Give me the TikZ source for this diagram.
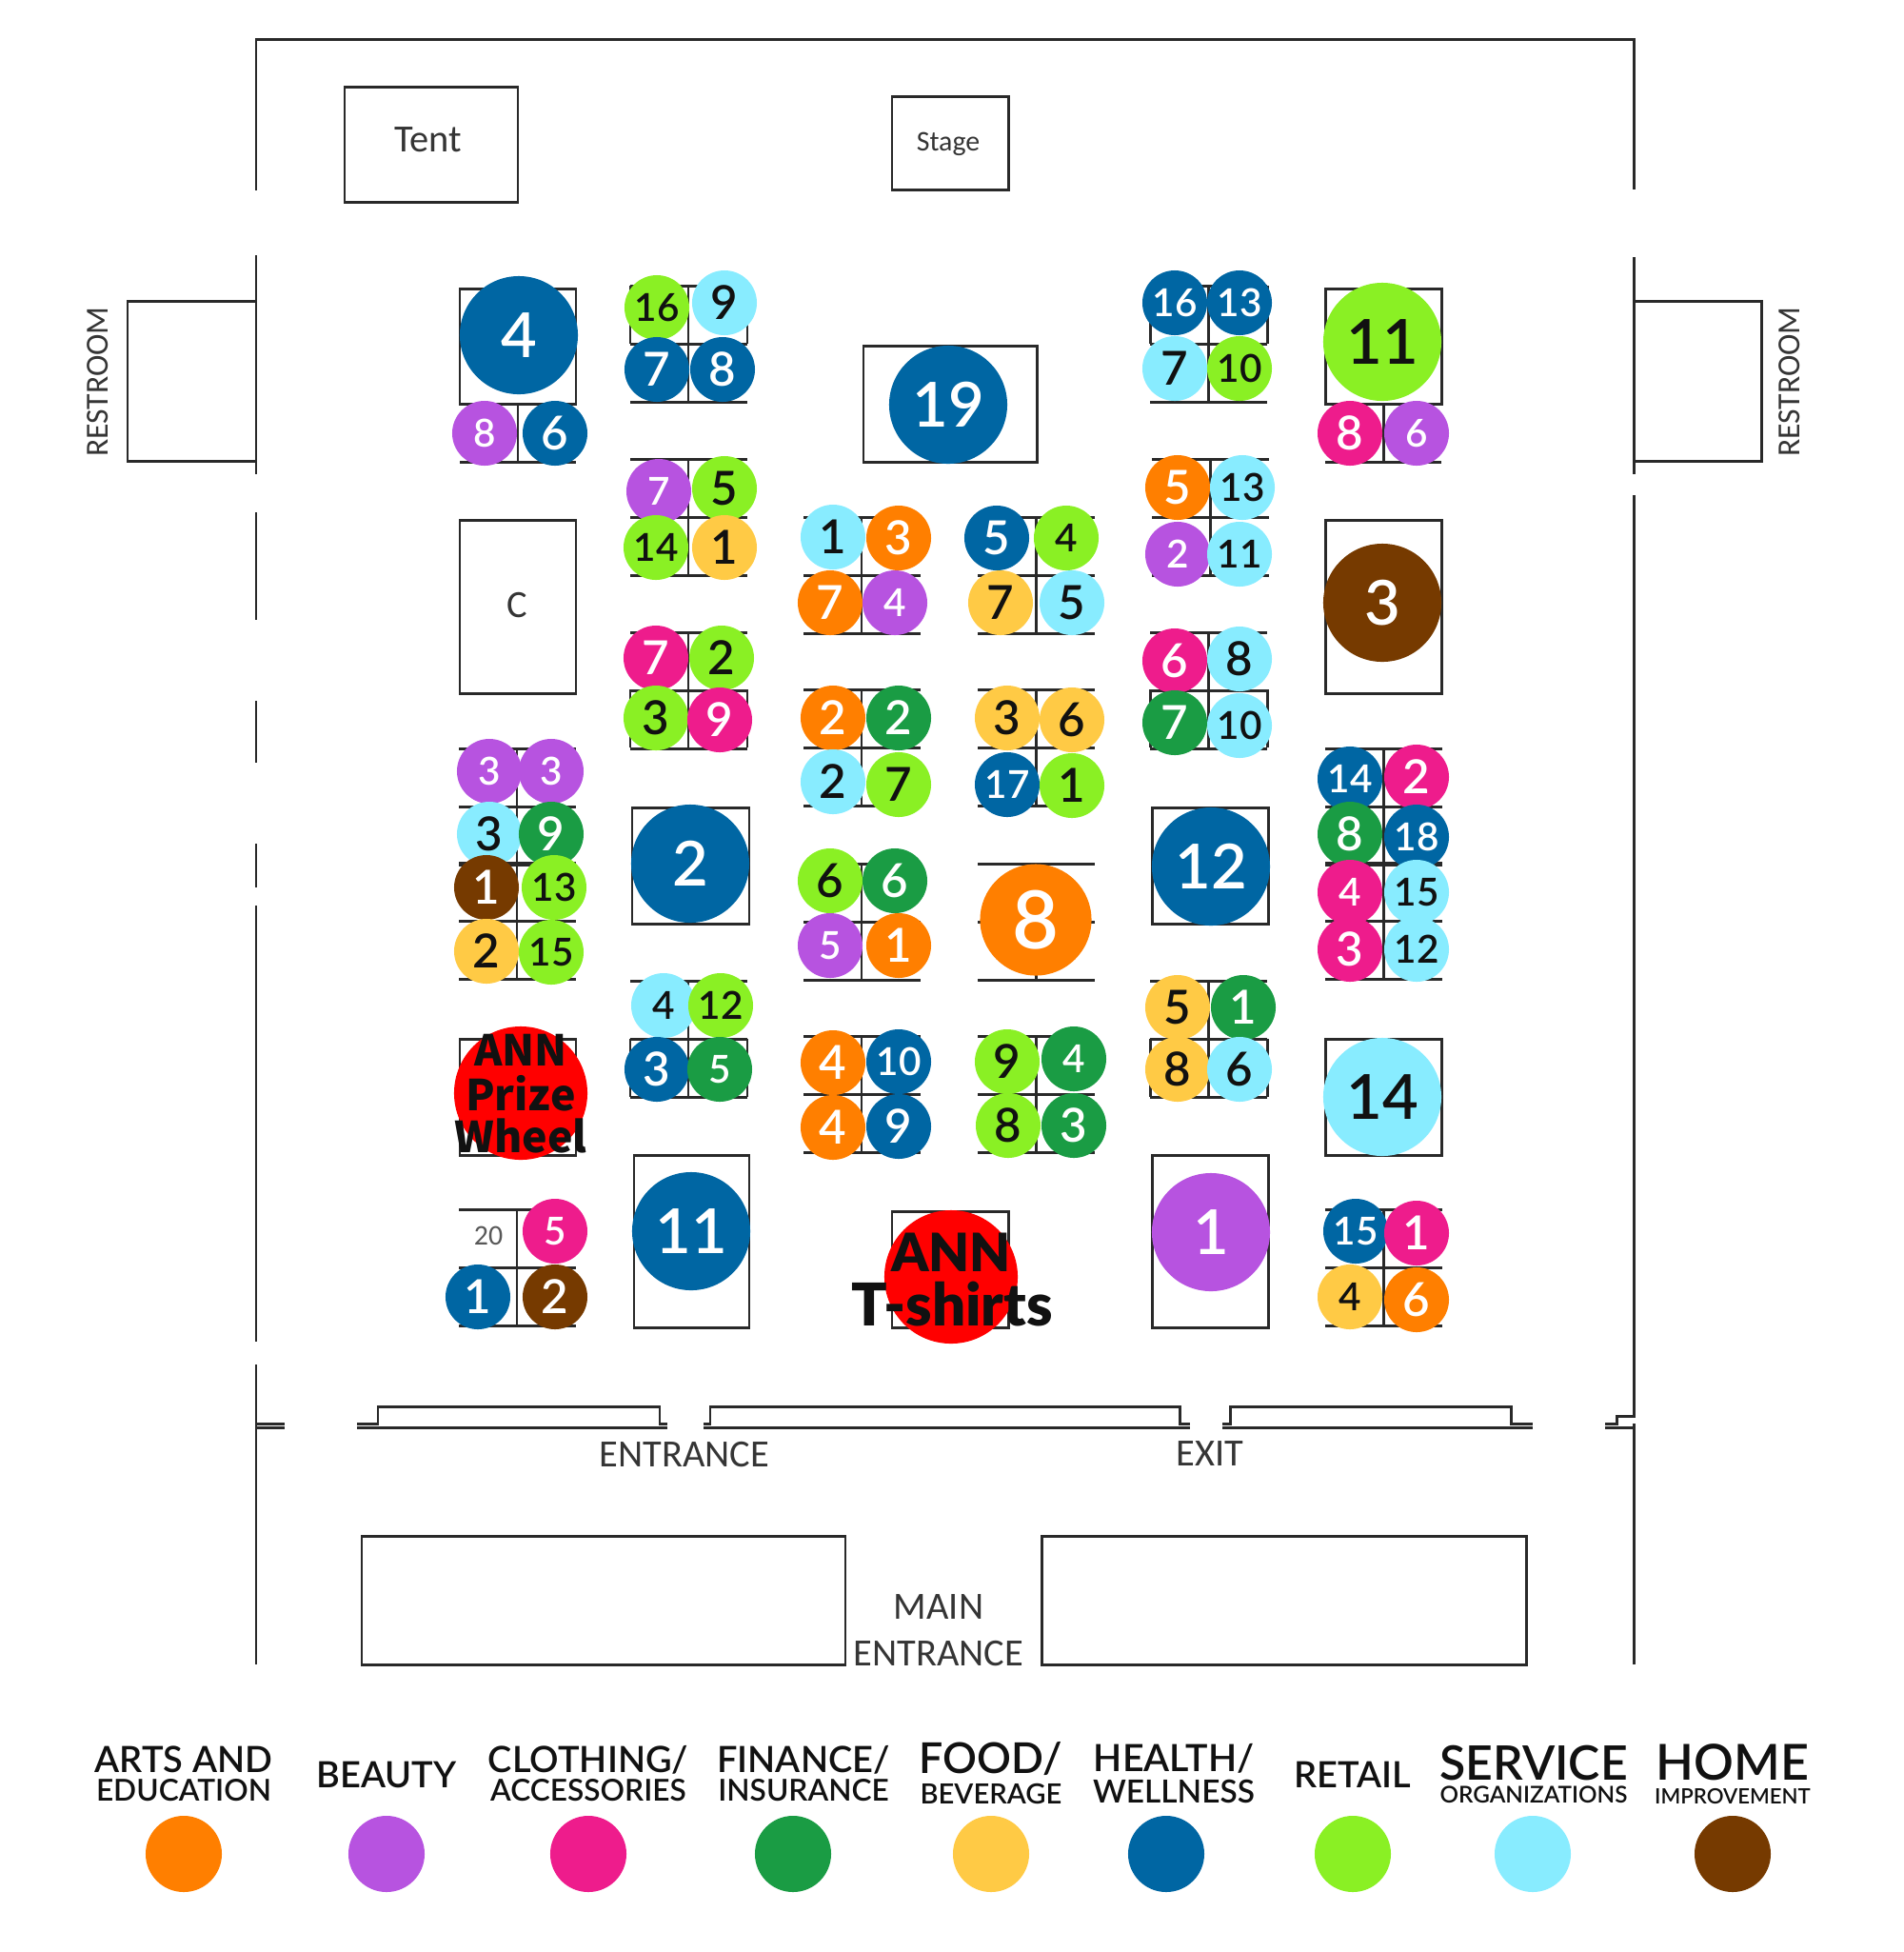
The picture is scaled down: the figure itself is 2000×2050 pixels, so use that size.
\documentclass[tikz,border=0pt]{standalone}
\usepackage{fontspec}
\setmainfont{Lato Semibold}
\newfontfamily\planfont{Carlito}
\newfontfamily\annfont{Noto Sans CJK SC}[BoldFont=* Black]
\newfontfamily\shirtfont{Lato Black}
\definecolor{arts}{HTML}{FF7F00}
\definecolor{beauty}{HTML}{B753E0}
\definecolor{clothing}{HTML}{EE1C8C}
\definecolor{finance}{HTML}{1A9C44}
\definecolor{food}{HTML}{FFCA45}
\definecolor{health}{HTML}{0066A3}
\definecolor{retail}{HTML}{8AF024}
\definecolor{service}{HTML}{88ECFF}
\definecolor{home}{HTML}{763A00}
\definecolor{inkblack}{HTML}{111111}
\tikzset{
	wall/.style={line width=0.85pt, color=inkblack!90},
	dot/.style={circle, inner sep=0pt, minimum size=0.68cm, font=\fontsize{14}{14}\selectfont},
	two/.style={font=\fontsize{11.5}{12}\selectfont},
	big/.style={minimum size=1.24cm, font=\fontsize{18.5}{19}\selectfont},
	dk/.style={fill=#1, text=white},
	lt/.style={fill=#1, text=inkblack},
	plan/.style={font=\planfont\fontsize{11.5}{12}\selectfont, text=inkblack!85, inner sep=0pt},
	ann/.style={font=\annfont\bfseries\fontsize{12.7}{13}\selectfont, text=inkblack, inner sep=0pt},
	shirt/.style={font=\shirtfont\fontsize{15.8}{16}\selectfont, text=inkblack, inner sep=0pt},
	key/.style={circle, inner sep=0pt, minimum size=0.8cm},
	leg/.style={font=\fontsize{10.8}{11}\selectfont, text=inkblack, inner sep=0pt},
	legsub/.style={font=\fontsize{9}{9}\selectfont, text=inkblack, inner sep=0pt}
}
\def\stalls(#1,#2){\draw[wall] (#1,#2) -- ++(123,0) (#1,#2) ++(0,61) -- ++(123,0) (#1,#2) ++(0,122) -- ++(123,0) (#1,#2) ++(61,0) -- ++(0,122);}
\def\sides(#1,#2){\draw[wall] (#1,#2) -- ++(0,61) (#1,#2) ++(123,0) -- ++(0,61);}

\begin{document}
\begin{tikzpicture}[x=0.01cm, y=-0.01cm]
	\useasboundingbox (0,0) rectangle (2000,2050);
	%%%%% WALLS %%%%%

	\draw[wall] (269,200) -- (269,41) -- (1716,41) -- (1716,199);
	\draw[wall] (269,268) -- (269,498);
	\draw[wall] (269,538) -- (269,651);
	\draw[wall] (269,736) -- (269,801);
	\draw[wall] (269,886) -- (269,932);
	\draw[wall] (269,951) -- (269,1409);
	\draw[wall] (269,1433) -- (269,1748);
	\draw[wall] (1716,270) -- (1716,498);
	\draw[wall] (1716,520) -- (1716,1487) -- (1698,1487) -- (1698,1495) -- (1686,1495);
	\draw[wall] (1716,1495) -- (1716,1748);
	\draw[wall] (1686,1499) -- (1716,1499);
	\draw[wall] (269,1495) -- (299,1495);
	\draw[wall] (269,1499) -- (299,1499);

	\draw[wall] (269,316) -- (134,316) -- (134,484) -- (269,484);
	\draw[wall] (1716,316) -- (1850,316) -- (1850,484) -- (1716,484);
	\node[plan, rotate=90, font=\planfont\fontsize{9.6}{10}\selectfont] (restroomL) at (103,401) {RESTROOM};
	\node[plan, rotate=90, font=\planfont\fontsize{9.6}{10}\selectfont] (restroomR) at (1880,401) {RESTROOM};

	\draw[wall] (375,1495) -- (397,1495) -- (397,1477) -- (693,1477) -- (693,1495) -- (701,1495);
	\draw[wall] (739,1495) -- (746,1495) -- (746,1477) -- (1239,1477) -- (1239,1495) -- (1250,1495);
	\draw[wall] (1284,1495) -- (1292,1495) -- (1292,1477) -- (1587,1477) -- (1587,1495) -- (1610,1495);
	\draw[wall] (375,1499) -- (701,1499);
	\draw[wall] (739,1499) -- (1250,1499);
	\draw[wall] (1284,1499) -- (1610,1499);
	\node[plan] (entrance) at (719,1527) {ENTRANCE};
	\node[plan] (exit) at (1271,1527) {EXIT};

	\draw[wall] (380,1613) rectangle (888,1748);
	\draw[wall] (1094,1613) rectangle (1603,1748);
	\node[plan] (main) at (986,1688) {MAIN};
	\node[plan] (mainentrance) at (986,1736) {ENTRANCE};

	\draw[wall] (362,91) rectangle (544,212);
	\node[plan] (tent) at (450,147) {Tent};
	\draw[wall] (937,101) rectangle (1059,199);
	\node[plan, font=\planfont\fontsize{8.5}{9}\selectfont] (stage) at (996,151) {Stage};

	%%%%% BOOTHS %%%%%

	\draw[wall] (483,303) rectangle (605,424);
	\draw[wall] (544,424) -- (544,485);
	\draw[wall] (483,485) -- (605,485);
	\draw[wall] (483,546) rectangle (605,728);
	\node[plan] (boothC) at (543,635) {C};
	\stalls(482,786);
	\stalls(482,906);
	\draw[wall] (483,1091) rectangle (605,1213);
	\stalls(482,1270);
	\node[plan, font=\planfont\fontsize{8.5}{9}\selectfont, text=inkblack!70] (twenty) at (513,1298) {20};

	\stalls(662,300);
	\sides(662,300);
	\stalls(662,482);
	\stalls(662,664);
	\sides(662,724);
	\draw[wall] (664,848) rectangle (787,970);
	\stalls(662,1030);
	\sides(662,1091);
	\draw[wall] (666,1213) rectangle (787,1394);

	\stalls(844,543);
	\stalls(844,724);
	\stalls(844,907);
	\stalls(844,1088);

	\stalls(1027,543);
	\stalls(1027,724);
	\stalls(1027,907);
	\stalls(1027,1088);

	\draw[wall] (907,363) rectangle (1089,485);
	\draw[wall] (937,1272) rectangle (1059,1394);

	\stalls(1208,300);
	\sides(1208,300);
	\stalls(1210,482);
	\stalls(1208,664);
	\sides(1208,724);
	\draw[wall] (1210,848) rectangle (1332,970);
	\stalls(1208,1030);
	\sides(1208,1091);
	\draw[wall] (1210,1213) rectangle (1332,1394);

	\draw[wall] (1392,303) rectangle (1514,424);
	\draw[wall] (1453,424) -- (1453,485);
	\draw[wall] (1392,485) -- (1514,485);
	\draw[wall] (1392,546) rectangle (1514,728);
	\stalls(1392,786);
	\stalls(1392,906);
	\draw[wall] (1392,1091) rectangle (1514,1213);
	\stalls(1392,1270);

	%%%%% FIRST ROW OF BOOTHS %%%%%

	\node[dot, big, dk=health] (a4) at (545,352) {4};
	\node[dot, two, dk=beauty] (a8) at (509,455) {8};
	\node[dot, dk=health] (a6) at (583,455) {6};
	\node[dot, two, dk=beauty] (a3a) at (514,810) {3};
	\node[dot, two, dk=beauty] (a3b) at (579,810) {3};
	\node[dot, lt=service] (a3c) at (514,876) {3};
	\node[dot, dk=finance] (a9) at (579,876) {9};
	\node[dot, dk=home] (a1) at (511,932) {1};
	\node[dot, two, lt=retail] (a13) at (582,932) {13};
	\node[dot, lt=food] (a2) at (511,999) {2};
	\node[dot, two, lt=retail] (a15) at (579,1000) {15};
	\node[dot, two, dk=clothing] (a5) at (583,1293) {5};
	\node[dot, dk=health] (a1b) at (502,1362) {1};
	\node[dot, dk=home] (a2b) at (583,1362) {2};

	\node[dot, minimum size=1.4cm, fill=red] (prize) at (547,1148) {};
	\node[ann] (prizeA) at (547,1103) {ANN};
	\node[ann] (prizeB) at (547,1148) {Prize};
	\node[ann] (prizeC) at (547,1193) {Wheel};

	%%%%% SECOND ROW OF BOOTHS %%%%%

	\node[dot, two, lt=retail] (b16) at (690,323) {16};
	\node[dot, lt=service] (b9) at (761,318) {9};
	\node[dot, dk=health] (b7) at (690,388) {7};
	\node[dot, dk=health] (b8) at (759,388) {8};
	\node[dot, two, dk=beauty] (b7b) at (692,516) {7};
	\node[dot, lt=retail] (b5) at (761,513) {5};
	\node[dot, two, lt=retail] (b14) at (689,575) {14};
	\node[dot, lt=food] (b1) at (761,575) {1};
	\node[dot, dk=clothing] (b7c) at (689,691) {7};
	\node[dot, lt=retail] (b2) at (758,691) {2};
	\node[dot, lt=retail] (b3) at (689,754) {3};
	\node[dot, dk=clothing] (b9b) at (756,756) {9};
	\node[dot, big, dk=health] (b2b) at (725,907) {2};
	\node[dot, two, lt=service] (b4) at (697,1056) {4};
	\node[dot, two, lt=retail] (b12) at (757,1056) {12};
	\node[dot, dk=health] (b3b) at (690,1123) {3};
	\node[dot, two, dk=finance] (b5b) at (756,1123) {5};
	\node[dot, big, dk=health] (b11) at (726,1293) {11};

	%%%%% MIDDLE ROWS %%%%%

	\node[dot, lt=service] (c1) at (875,564) {1};
	\node[dot, dk=arts] (c3) at (944,565) {3};
	\node[dot, dk=arts] (c7) at (872,633) {7};
	\node[dot, two, dk=beauty] (c4) at (940,633) {4};
	\node[dot, dk=arts] (c2) at (875,754) {2};
	\node[dot, dk=finance] (c2b) at (944,754) {2};
	\node[dot, lt=service] (c2c) at (875,821) {2};
	\node[dot, lt=retail] (c7b) at (944,824) {7};
	\node[dot, lt=retail] (c6) at (872,925) {6};
	\node[dot, dk=finance] (c6b) at (940,925) {6};
	\node[dot, two, dk=beauty] (c5) at (872,993) {5};
	\node[dot, dk=arts] (c1b) at (944,993) {1};
	\node[dot, dk=arts] (c4b) at (875,1116) {4};
	\node[dot, two, dk=health] (c10) at (944,1115) {10};
	\node[dot, dk=arts] (c4c) at (875,1184) {4};
	\node[dot, dk=health] (c9) at (944,1183) {9};

	\node[dot, dk=health] (d5) at (1047,565) {5};
	\node[dot, two, lt=retail] (d4) at (1120,565) {4};
	\node[dot, lt=food] (d7) at (1051,633) {7};
	\node[dot, lt=service] (d5b) at (1126,633) {5};
	\node[dot, lt=food] (d3) at (1058,754) {3};
	\node[dot, lt=food] (d6) at (1126,756) {6};
	\node[dot, two, dk=health] (d17) at (1058,824) {17};
	\node[dot, lt=retail] (d1) at (1126,825) {1};
	\node[dot, big, minimum size=1.17cm, dk=arts, font=\fontsize{24}{24}\selectfont] (d8) at (1088,966) {8};
	\node[dot, lt=retail] (d9) at (1058,1115) {9};
	\node[dot, two, dk=finance] (d4b) at (1128,1112) {4};
	\node[dot, lt=retail] (d8b) at (1059,1182) {8};
	\node[dot, dk=finance] (d3b) at (1128,1182) {3};

	\node[dot, big, dk=health] (s19) at (996,425) {19};
	\node[dot, minimum size=1.4cm, fill=red] (shirts) at (999,1341) {};
	\node[shirt] (shirtsA) at (999,1315) {ANN};
	\node[shirt, font=\shirtfont\fontsize{17.6}{18}\selectfont] (shirtsB) at (1000,1369) {T-shirts};

	%%%%% RIGHT ROWS %%%%%

	\node[dot, two, dk=health] (e16) at (1234,318) {16};
	\node[dot, two, dk=health] (e13) at (1302,318) {13};
	\node[dot, lt=service] (e7) at (1234,387) {7};
	\node[dot, two, lt=retail] (e10) at (1302,387) {10};
	\node[dot, dk=arts] (e5) at (1237,512) {5};
	\node[dot, two, lt=service] (e13b) at (1305,512) {13};
	\node[dot, two, dk=beauty] (e2) at (1237,582) {2};
	\node[dot, two, lt=service] (e11) at (1302,582) {11};
	\node[dot, dk=clothing] (e6) at (1234,694) {6};
	\node[dot, lt=service] (e8) at (1302,692) {8};
	\node[dot, dk=finance] (e7b) at (1234,759) {7};
	\node[dot, two, lt=service] (e10b) at (1302,762) {10};
	\node[dot, big, dk=health] (e12) at (1272,910) {12};
	\node[dot, lt=food] (e5b) at (1237,1058) {5};
	\node[dot, dk=finance] (e1) at (1306,1058) {1};
	\node[dot, lt=food] (e8b) at (1237,1123) {8};
	\node[dot, lt=service] (e6b) at (1302,1123) {6};
	\node[dot, big, dk=beauty] (e1b) at (1272,1294) {1};

	\node[dot, big, lt=retail] (f11) at (1452,359) {11};
	\node[dot, dk=clothing] (f8) at (1418,455) {8};
	\node[dot, two, dk=beauty] (f6) at (1488,455) {6};
	\node[dot, big, dk=home] (f3) at (1452,633) {3};
	\node[dot, two, dk=health] (f14) at (1418,818) {14};
	\node[dot, dk=clothing] (f2) at (1488,816) {2};
	\node[dot, dk=finance] (f8b) at (1418,876) {8};
	\node[dot, two, dk=health] (f18) at (1488,879) {18};
	\node[dot, two, dk=clothing] (f4) at (1418,937) {4};
	\node[dot, two, lt=service] (f15) at (1488,937) {15};
	\node[dot, dk=clothing] (f3b) at (1418,997) {3};
	\node[dot, two, lt=service] (f12) at (1488,997) {12};
	\node[dot, big, lt=service] (f14b) at (1452,1152) {14};
	\node[dot, two, dk=health] (f15b) at (1424,1293) {15};
	\node[dot, dk=clothing] (f1) at (1488,1295) {1};
	\node[dot, two, lt=food] (f4b) at (1418,1362) {4};
	\node[dot, dk=arts] (f6b) at (1488,1365) {6};

	%%%%% LEGEND %%%%%

	\node[key, fill=arts] (kArts) at (193,1947) {};
	\node[key, fill=beauty] (kBeauty) at (406,1947) {};
	\node[key, fill=clothing] (kClothing) at (618,1947) {};
	\node[key, fill=finance] (kFinance) at (833,1947) {};
	\node[key, fill=food] (kFood) at (1041,1947) {};
	\node[key, fill=health] (kHealth) at (1225,1947) {};
	\node[key, fill=retail] (kRetail) at (1421,1947) {};
	\node[key, fill=service] (kService) at (1610,1947) {};
	\node[key, fill=home] (kHome) at (1820,1947) {};

	\node[leg] (lArts) at (193,1848) {ARTS AND};
	\node[leg, font=\fontsize{9}{10}\selectfont] (lArtsB) at (193,1880) {EDUCATION};
	\node[leg] (lBeauty) at (406,1864) {BEAUTY};
	\node[leg] (lClothing) at (618,1848) {CLOTHING/};
	\node[leg, font=\fontsize{9}{10}\selectfont] (lClothingB) at (618,1880) {ACCESSORIES};
	\node[leg] (lFinance) at (844,1848) {FINANCE/};
	\node[leg, font=\fontsize{9}{10}\selectfont] (lFinanceB) at (844,1880) {INSURANCE};
	\node[leg, font=\fontsize{12.7}{13}\selectfont] (lFood) at (1041,1847) {FOOD/};
	\node[legsub, font=\fontsize{8.3}{9}\selectfont] (lFoodB) at (1041,1884) {BEVERAGE};
	\node[leg, font=\fontsize{11.2}{12}\selectfont] (lHealth) at (1233,1847) {HEALTH/};
	\node[leg, font=\fontsize{9.5}{10}\selectfont] (lHealthB) at (1233,1881) {WELLNESS};
	\node[leg] (lRetail) at (1421,1864) {RETAIL};
	\node[leg, font=\fontsize{14.2}{15}\selectfont] (lService) at (1611,1851) {SERVICE};
	\node[legsub, font=\fontsize{6.9}{8}\selectfont] (lServiceB) at (1611,1885) {ORGANIZATIONS};
	\node[leg, font=\fontsize{14.8}{16}\selectfont] (lHome) at (1820,1851) {HOME};
	\node[legsub, font=\fontsize{6.3}{7}\selectfont] (lHomeB) at (1820,1886) {IMPROVEMENT};

\end{tikzpicture}
\end{document}
